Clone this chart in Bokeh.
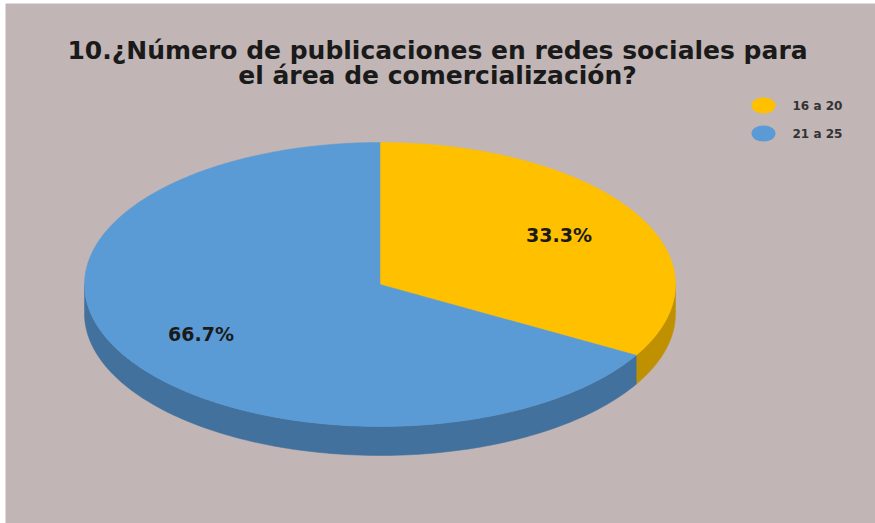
import numpy as np
from bokeh.plotting import figure
from bokeh.models import Range1d, Label
from bokeh.embed import file_html
from bokeh.resources import INLINE

# ---- data ----
categories = ["16 a 20", "21 a 25"]
percentages = [33.3, 66.7]
label_texts = ["33.3%", "66.7%"]
top_colors = ["#FFC000", "#5B9BD5"]
side_colors = ["#BF9000", "#41719C"]
title_lines = ["10.¿Número de publicaciones en redes sociales para",
               "el área de comercialización?"]

BG = "#C1B5B5"
W, H = 875, 523
L0, T0 = 5, 3

p = figure(width=W, height=H, output_backend="svg", toolbar_location=None,
           x_range=Range1d(L0, W), y_range=Range1d(H, T0),
           min_border_left=L0, min_border_top=T0, min_border_right=0, min_border_bottom=0,
           background_fill_color=BG, border_fill_color="white", outline_line_color=None)
p.axis.visible = False
p.grid.visible = False

# pie geometry (pixel-like units, y downward)
cx, cy, rx, ry, depth = 379.5, 284.0, 295.5, 142.0, 29.0

def pt(theta):
    return cx + rx * np.cos(theta), cy - ry * np.sin(theta)

total = sum(percentages)
starts, ends = [], []
acc = 0.0
for v in percentages:
    a0 = np.pi / 2 - 2 * np.pi * acc / total
    acc += v
    a1 = np.pi / 2 - 2 * np.pi * acc / total
    starts.append(a0)
    ends.append(a1)

# sides (front half visible: angles between -pi and 0)
for a0, a1, col in zip(starts, ends, side_colors):
    lo, hi = min(a0, a1), max(a0, a1)
    for shift in (0.0, -2 * np.pi, 2 * np.pi):
        vl, vh = max(lo + shift, -np.pi), min(hi + shift, 0.0)
        if vh > vl:
            th = np.linspace(vh, vl, 120)
            xs, ys = pt(th)
            px = np.concatenate([xs, xs[::-1]])
            py = np.concatenate([ys, ys[::-1] + depth])
            p.patch(px, py, fill_color=col, line_color=col, line_width=0.5)

# top faces
for a0, a1, col in zip(starts, ends, top_colors):
    th = np.linspace(a0, a1, 240)
    xs, ys = pt(th)
    p.patch(np.concatenate([[cx], xs]), np.concatenate([[cy], ys]),
            fill_color=col, line_color=col, line_width=0.5)

# data labels
for a0, a1, t in zip(starts, ends, label_texts):
    mid = (a0 + a1) / 2
    lx = cx + 0.70 * rx * np.cos(mid)
    ly = cy - 0.70 * ry * np.sin(mid)
    p.add_layout(Label(x=lx, y=ly, text=t, text_align="center", text_baseline="middle",
                       text_font="DejaVu Sans", text_font_style="bold",
                       text_font_size="19px", text_color="#1a1a1a"))

# title
for i, line in enumerate(title_lines):
    p.add_layout(Label(x=437, y=50 + 25 * i, text=line, text_align="center",
                       text_baseline="alphabetic", text_font="DejaVu Sans",
                       text_font_style="bold", text_font_size="25px",
                       text_color="#1a1a1a"))

# legend
for i, (cat, col) in enumerate(zip(categories, top_colors)):
    ly = 105 + 28 * i
    p.ellipse(x=[763], y=[ly], width=24, height=16, fill_color=col, line_color=None)
    p.add_layout(Label(x=792, y=ly, text=cat, text_align="left", text_baseline="middle",
                       text_font="DejaVu Sans", text_font_style="bold",
                       text_font_size="12px", text_color="#333333"))

open("out.html", "w").write(file_html(p, INLINE))
